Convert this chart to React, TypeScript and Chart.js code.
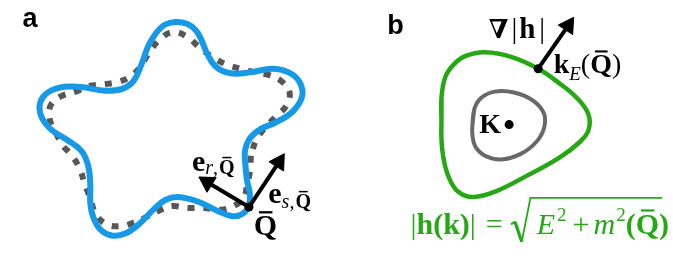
import React, { useEffect, useRef } from "react";
import { Chart, registerables } from "chart.js";

Chart.register(...registerables);

// ---------- Panel a: boundary curves (image units) ----------
const boundaryX = [242, 244, 247, 246, 240, 229, 213, 193, 173, 160, 148, 133, 118, 104, 92, 85, 82, 82, 80, 73, 57, 40, 30, 33, 49, 72, 97, 115, 127, 135, 142, 150, 159, 170, 182, 191, 197, 203, 212, 227, 247, 270, 287, 298, 301, 291, 273, 258, 247, 242];
const boundaryY = [165, 185, 200, 212, 221, 224, 218, 208, 203, 206, 216, 232, 243, 245, 238, 225, 210, 190, 170, 153, 140, 128, 111, 94, 84, 83, 87, 85, 76, 58, 38, 24, 15, 12, 14, 21, 32, 47, 61, 68, 67, 63, 67, 77, 93, 110, 122, 129, 139, 152];

const referenceX = [248, 247, 244, 241, 232, 217, 200, 183, 167, 155, 140, 127, 112, 97, 87, 82, 76, 71, 63, 53, 46, 40, 41, 52, 67, 80, 97, 112, 124, 133, 143, 154, 167, 182, 195, 208, 222, 237, 252, 267, 280, 288, 285, 274, 262, 253];
const referenceY = [158, 175, 190, 203, 212, 217, 215, 215, 213, 217, 225, 231, 235, 232, 220, 205, 188, 172, 158, 146, 132, 118, 103, 93, 88, 82, 80, 77, 71, 62, 45, 31, 23, 28, 40, 50, 58, 63, 67, 70, 77, 89, 103, 115, 128, 142];

// ---------- Panel b: contours ----------
const outerX = [445, 445, 449, 458, 470, 490, 517, 545, 567, 586, 597, 597, 588, 567, 533, 503, 478, 462, 452, 447, 445];
const outerY = [120, 95, 72, 58, 49, 45, 50, 63, 79, 96, 113, 130, 143, 160, 180, 196, 203, 197, 180, 160, 140];

const innerX = [477, 479, 486, 500, 520, 540, 551, 551, 543, 527, 507, 490, 480, 477];
const innerY = [125, 107, 95, 88, 89, 98, 112, 128, 143, 156, 162, 158, 148, 135];

// ---------- Marked points & vectors ----------
const dotX = [246, 545, 515]; // Q̄, k_E(Q̄), K
const dotY = [214, 63, 124];

const arrowStartX = [246, 246, 545]; // e_s, e_r, ∇|h|
const arrowStartY = [214, 214, 63];
const arrowHeadX = [277, 203, 576];
const arrowHeadY = [165, 187, 16];

// ---------- Texts ----------
const panelLabels = ["a", "b"];

const BLUE = "#1699e6";
const GRAY_DOT = "#575757";
const GRAY = "#686868";
const GREEN = "#26a814";

const SERIF = '"Liberation Serif", "DejaVu Serif", serif';
const f = (style: string, size: number) => `${style} ${size}px ${SERIF}`;

type Run = { t: string; font: string; dx?: number; dy?: number; bar?: boolean };
type Label = { x: number; y: number; color: string; runs: Run[] };

const mathLabels: Label[] = [
  {
    x: 187, y: 175, color: "#000",
    runs: [
      { t: "e", font: f("bold", 30) },
      { t: "r", font: f("italic", 20), dy: 3 },
      { t: ",", font: f("normal", 20), dy: 3 },
      { t: "Q", font: f("bold", 20), dy: 3, dx: 1, bar: true },
    ],
  },
  {
    x: 266, y: 210, color: "#000",
    runs: [
      { t: "e", font: f("bold", 30) },
      { t: "s", font: f("italic", 20), dy: 5 },
      { t: ",", font: f("normal", 20), dy: 5 },
      { t: "Q", font: f("bold", 20), dy: 5, dx: 1, bar: true },
    ],
  },
  { x: 251, y: 245, color: "#000", runs: [{ t: "Q", font: f("bold", 30), bar: true }] },
  {
    x: 494, y: 29, color: "#000",
    runs: [
      { t: "∇", font: f("bold", 26) },
      { t: "|", font: f("normal", 29), dx: 3 },
      { t: "h", font: f("bold", 29), dx: 2 },
      { t: "|", font: f("normal", 29), dx: 4 },
    ],
  },
  {
    x: 561, y: 68, color: "#000",
    runs: [
      { t: "k", font: f("bold", 28) },
      { t: "E", font: f("italic", 19), dy: 7 },
      { t: "(", font: f("normal", 28) },
      { t: "Q", font: f("bold", 28), bar: true },
      { t: ")", font: f("normal", 28) },
    ],
  },
  { x: 484, y: 133, color: "#000", runs: [{ t: "K", font: f("bold", 28) }] },
  {
    x: 413, y: 243, color: GREEN,
    runs: [
      { t: "|", font: f("normal", 30) },
      { t: "h(k)", font: f("bold", 30) },
      { t: "|", font: f("normal", 30) },
      { t: "=", font: f("normal", 30), dx: 10 },
      { t: "E", font: f("italic", 30), dx: 34 },
      { t: "2", font: f("normal", 19), dy: -13, dx: 2 },
      { t: "+", font: f("normal", 30), dx: 6 },
      { t: "m", font: f("italic", 30), dx: 4 },
      { t: "2", font: f("normal", 19), dy: -13, dx: 1 },
      { t: "(", font: f("bold", 30) },
      { t: "Q", font: f("bold", 30), bar: true },
      { t: ")", font: f("bold", 30) },
    ],
  },
];

// radical sign of the equation (image units)
const radicalX = [517, 521, 528, 537, 673];
const radicalY = [233, 230, 252, 204, 204];

const panelLabelPos = [
  { x: 12, y: 17 },
  { x: 389, y: 25 },
];

const toPts = (xs: number[], ys: number[]) => xs.map((x, i) => ({ x, y: ys[i] }));

const textPlugin = {
  id: "mathText",
  afterDatasetsDraw(chart: any) {
    const { ctx, scales } = chart;
    const px = (v: number) => scales.x.getPixelForValue(v);
    const py = (v: number) => scales.y.getPixelForValue(v);
    ctx.save();
    ctx.textBaseline = "alphabetic";
    ctx.textAlign = "left";

    // panel letters
    ctx.fillStyle = "#000";
    ctx.font = 'bold 27px "Liberation Sans", Arial, sans-serif';
    panelLabels.forEach((t, i) => ctx.fillText(t, px(panelLabelPos[i].x), py(panelLabelPos[i].y)));

    // math labels
    for (const lab of mathLabels) {
      let cx = px(lab.x);
      const by = py(lab.y);
      ctx.fillStyle = lab.color;
      for (const r of lab.runs) {
        ctx.font = r.font;
        cx += r.dx || 0;
        const y = by + (r.dy || 0);
        ctx.fillText(r.t, cx, y);
        const m = ctx.measureText(r.t);
        if (r.bar) {
          const size = parseFloat(r.font.split(" ")[1]);
          const asc = m.actualBoundingBoxAscent;
          const th = Math.max(1.5, size * 0.075);
          ctx.fillRect(cx + m.width * 0.22, y - asc - size * 0.1 - th, m.width * 0.58, th);
        }
        cx += m.width;
      }
    }

    // radical
    ctx.strokeStyle = GREEN;
    ctx.lineJoin = "miter";
    ctx.lineWidth = 2;
    ctx.beginPath();
    ctx.moveTo(px(radicalX[0]), py(radicalY[0]));
    ctx.lineTo(px(radicalX[1]), py(radicalY[1]));
    ctx.stroke();
    ctx.lineWidth = 3.2;
    ctx.beginPath();
    ctx.moveTo(px(radicalX[1]), py(radicalY[1]));
    ctx.lineTo(px(radicalX[2]), py(radicalY[2]));
    ctx.stroke();
    ctx.lineWidth = 1.8;
    ctx.beginPath();
    ctx.moveTo(px(radicalX[2]), py(radicalY[2]));
    ctx.lineTo(px(radicalX[3]), py(radicalY[3]));
    ctx.lineTo(px(radicalX[4]), py(radicalY[4]));
    ctx.stroke();
    ctx.restore();
  },
};

export default function App() {
  const ref = useRef<HTMLCanvasElement>(null);

  useEffect(() => {
    document.body.style.margin = "0";
    const canvas = ref.current!;
    const blue = toPts(boundaryX, boundaryY);
    const grayRef = toPts(referenceX, referenceY);
    const outer = toPts(outerX, outerY);
    const inner = toPts(innerX, innerY);

    const arrowSets = arrowStartX.map((sx, i) => {
      const sy = arrowStartY[i];
      const hx = arrowHeadX[i];
      const hy = arrowHeadY[i];
      const rot = (Math.atan2(hx - sx, -(hy - sy)) * 180) / Math.PI;
      return {
        data: [{ x: sx, y: sy }, { x: hx, y: hy }],
        showLine: true,
        borderColor: "#000",
        borderWidth: 4,
        tension: 0,
        pointStyle: "triangle",
        pointRadius: [0, 10],
        pointRotation: [0, rot],
        pointBackgroundColor: "#000",
        pointBorderColor: "#000",
        pointBorderWidth: 1,
        clip: false,
        order: 2,
      };
    });

    const chart = new Chart(canvas, {
      type: "scatter",
      data: {
        datasets: [
          {
            data: [...grayRef, grayRef[0]],
            showLine: true,
            borderColor: GRAY_DOT,
            borderWidth: 6,
            borderDash: [7, 9],
            borderCapStyle: "butt",
            tension: 0.4,
            pointRadius: 0,
            clip: false,
            order: 6,
          },
          {
            data: [...blue, blue[0], blue[1]],
            showLine: true,
            borderColor: BLUE,
            borderWidth: 6,
            borderJoinStyle: "round",
            tension: 0.4,
            pointRadius: 0,
            clip: false,
            order: 5,
          },
          {
            data: [...outer, outer[0], outer[1]],
            showLine: true,
            borderColor: GREEN,
            borderWidth: 4.5,
            borderJoinStyle: "round",
            tension: 0.4,
            pointRadius: 0,
            clip: false,
            order: 5,
          },
          {
            data: [...inner, inner[0], inner[1]],
            showLine: true,
            borderColor: GRAY,
            borderWidth: 4,
            borderJoinStyle: "round",
            tension: 0.4,
            pointRadius: 0,
            clip: false,
            order: 5,
          },
          ...arrowSets,
          {
            data: toPts(dotX, dotY),
            showLine: false,
            pointRadius: 4.5,
            pointBackgroundColor: "#000",
            pointBorderColor: "#000",
            pointBorderWidth: 0,
            clip: false,
            order: 1,
          },
        ] as any,
      },
      options: {
        responsive: false,
        animation: false,
        events: [],
        devicePixelRatio: 1,
        layout: { padding: 0 },
        plugins: { legend: { display: false }, tooltip: { enabled: false }, title: { display: false } },
        scales: {
          x: { type: "linear", min: 0, max: 673, display: false },
          y: { type: "linear", min: 0, max: 262, reverse: true, display: false },
        },
      },
      plugins: [textPlugin],
    });
    return () => chart.destroy();
  }, []);

  return (
    <div style={{ position: "absolute", left: 0, top: 0, width: 673, height: 262, background: "#fff" }}>
      <canvas ref={ref} width={673} height={262} style={{ width: 673, height: 262, display: "block" }} />
    </div>
  );
}
